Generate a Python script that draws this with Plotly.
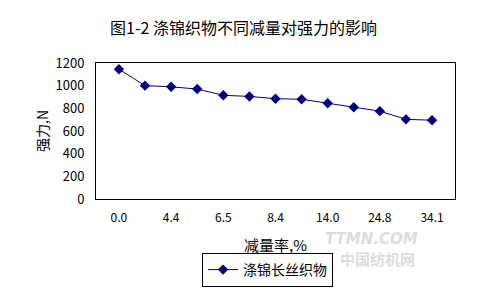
import plotly.graph_objects as go

categories = ["0.0", "2.1", "4.4", "5.5", "6.5", "7.6", "8.4", "11.2", "14.0", "19.3", "24.8", "29.5", "34.1"]
strength = [1145, 1000, 990, 970, 915, 905, 885, 880, 845, 810, 775, 703, 695]
shown_ticks = ["0.0", "4.4", "6.5", "8.4", "14.0", "24.8", "34.1"]
y_ticks = [0, 200, 400, 600, 800, 1000, 1200]

FONT = "SimSun, Noto Sans CJK SC"

fig = go.Figure()
fig.add_trace(go.Scatter(
    x=categories, y=strength, mode="lines+markers", name="涤锦长丝织物",
    line=dict(color="#000080", width=1),
    marker=dict(symbol="diamond", size=8, color="#000080"),
))

fig.update_layout(
    width=497, height=291,
    margin=dict(l=96, r=42, t=63, b=92, autoexpand=False),
    paper_bgcolor="white", plot_bgcolor="white",
    font=dict(family=FONT, color="black", size=12),
    title=dict(text="图1-2 涤锦织物不同减量对强力的影响", x=0.49, xanchor="center",
               y=1 - 28 / 291, yanchor="middle", font=dict(size=16, family=FONT)),
    showlegend=True,
    legend=dict(x=(202 - 96) / 359, xanchor="left", y=(199 - 270) / 136, yanchor="middle",
                bordercolor="black", borderwidth=1, bgcolor="white",
                font=dict(size=14, family=FONT), itemwidth=30,
                tracegroupgap=0),
    xaxis=dict(type="category", categoryorder="array", categoryarray=categories,
               tickmode="array", tickvals=shown_ticks, ticktext=shown_ticks,
               showline=True, mirror=True, linecolor="black", linewidth=1,
               showgrid=False, ticks="", tickfont=dict(size=12), ticklabelstandoff=8,
               title=dict(text="减量率,%", font=dict(size=15), standoff=16)),
    yaxis=dict(range=[0, 1200], tickvals=y_ticks, showline=True, mirror=True,
               linecolor="black", linewidth=1, showgrid=False, ticks="", zeroline=False,
               tickfont=dict(size=13), ticklabelstandoff=8,
               title=dict(text="强力,N", font=dict(size=14), standoff=3)),
)

fig.add_annotation(xref="paper", yref="paper", x=(420 - 96) / 359, y=(199 - 250) / 136,
                   text="<b><i>TTMN.COM</i></b>", showarrow=False,
                   font=dict(size=15, color="#dcdcdc", family="DejaVu Sans"))
fig.add_annotation(xref="paper", yref="paper", x=(417 - 96) / 359, y=(199 - 271) / 136,
                   text="<b>中国纺机网</b>", showarrow=False,
                   font=dict(size=15, color="#dcdcdc", family="Noto Sans CJK SC"))

fig.write_html("out.html")
